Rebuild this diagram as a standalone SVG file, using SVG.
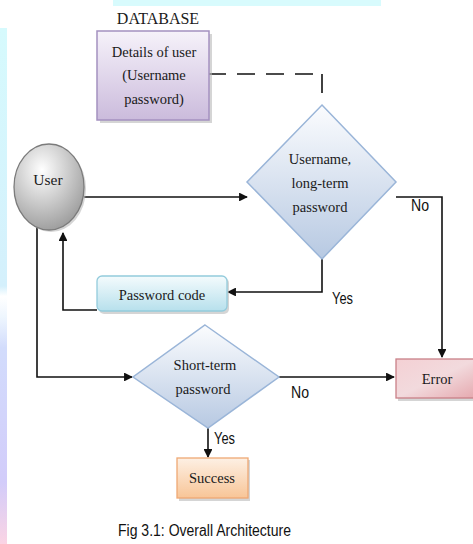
<svg xmlns="http://www.w3.org/2000/svg" width="473" height="544" viewBox="0 0 473 544">
  <style>
    .serif { font-family: "Liberation Serif", "Times New Roman", serif; fill: #1a1a1a; }
    .sans { font-family: "Liberation Sans", Arial, sans-serif; fill: #111; }
    .line { fill: none; stroke: #111; stroke-width: 1.6; }
    .shadow { fill: #b9b9b9; opacity: 0.6; }
  </style>
  <defs>
    <marker id="arrow" viewBox="0 0 10 10" refX="9" refY="5" markerWidth="5.5" markerHeight="5.5" orient="auto">
      <path d="M0,0 L10,5 L0,10 z" fill="#111"/>
    </marker>
    <linearGradient id="gDb" x1="0" y1="0" x2="0" y2="1">
      <stop offset="0" stop-color="#f6f2fa"/>
      <stop offset="1" stop-color="#cbbbdc"/>
    </linearGradient>
    <linearGradient id="gDiamond" x1="0" y1="0" x2="0" y2="1">
      <stop offset="0" stop-color="#fbfcfe"/>
      <stop offset="1" stop-color="#b7c9e2"/>
    </linearGradient>
    <radialGradient id="gUser" cx="0.4" cy="0.3" r="0.8">
      <stop offset="0" stop-color="#ffffff"/>
      <stop offset="1" stop-color="#939393"/>
    </radialGradient>
    <linearGradient id="gCode" x1="0" y1="0" x2="0" y2="1">
      <stop offset="0" stop-color="#f4fbfd"/>
      <stop offset="1" stop-color="#b7e0ec"/>
    </linearGradient>
    <linearGradient id="gError" x1="0" y1="0" x2="1" y2="1">
      <stop offset="0" stop-color="#f4d0d4"/>
      <stop offset="0.5" stop-color="#f2dadd"/>
      <stop offset="1" stop-color="#e5a8ae"/>
    </linearGradient>
    <linearGradient id="gSuccess" x1="0" y1="0" x2="0" y2="1">
      <stop offset="0" stop-color="#fdf0e4"/>
      <stop offset="1" stop-color="#f8c597"/>
    </linearGradient>
    <linearGradient id="gStrip" x1="0" y1="0" x2="0" y2="1">
      <stop offset="0" stop-color="#d6fafd"/>
      <stop offset="0.5" stop-color="#d4f0fc"/>
      <stop offset="0.52" stop-color="#ffffff"/>
      <stop offset="0.56" stop-color="#eef6fe"/>
      <stop offset="0.62" stop-color="#d2dcfc"/>
      <stop offset="0.88" stop-color="#d2ccfa"/>
      <stop offset="1" stop-color="#fbd4e4"/>
    </linearGradient>
  </defs>

  <!-- page background and decorative edges -->
  <rect width="473" height="544" fill="#ffffff"/>
  <rect x="0" y="28" width="7" height="516" fill="url(#gStrip)"/>
  <rect x="113" y="0" width="268" height="6" fill="#d8fbfd"/>

  <!-- connectors -->
  <g id="connectors">
    <path class="line" d="M208,74 H322" stroke-dasharray="18,11" stroke="#333"/>
    <path class="line" d="M322,74 V93"/>
    <path class="line" d="M84,197 H247" marker-end="url(#arrow)"/>
    <path class="line" d="M396,197 H442 V357" marker-end="url(#arrow)"/>
    <path class="line" d="M322,259 V292 H228" marker-end="url(#arrow)"/>
    <path class="line" d="M97,310 H63 V233" marker-end="url(#arrow)"/>
    <path class="line" d="M37,227 V377 H132" marker-end="url(#arrow)"/>
    <path class="line" d="M279,377 H394" marker-end="url(#arrow)"/>
    <path class="line" d="M208,428 V457" marker-end="url(#arrow)"/>
  </g>

  <!-- edge labels -->
  <g id="labels" class="sans" font-size="16" lengthAdjust="spacingAndGlyphs">
    <text x="411" y="211" textLength="18" lengthAdjust="spacingAndGlyphs">No</text>
    <text x="332" y="304" textLength="21" lengthAdjust="spacingAndGlyphs">Yes</text>
    <text x="291" y="398" textLength="18" lengthAdjust="spacingAndGlyphs">No</text>
    <text x="214" y="444" textLength="21" lengthAdjust="spacingAndGlyphs">Yes</text>
  </g>

  <g id="database">
    <text class="serif" x="158" y="24" font-size="16" text-anchor="middle">DATABASE</text>
    <rect class="shadow" x="100" y="34" width="112" height="89"/>
    <rect x="97" y="31" width="112" height="89" fill="url(#gDb)" stroke="#a491c0" stroke-width="1.5"/>
    <g class="serif" font-size="14.5" text-anchor="middle">
      <text x="154" y="57">Details of user</text>
      <text x="154" y="80">(Username</text>
      <text x="154" y="104">password)</text>
    </g>
  </g>

  <g id="user">
    <ellipse class="shadow" cx="51" cy="189" rx="35" ry="43"/>
    <ellipse cx="49" cy="187" rx="35" ry="43" fill="url(#gUser)" stroke="#7b7b7b" stroke-width="1.3"/>
    <text class="serif" x="48" y="185" font-size="15.5" text-anchor="middle">User</text>
  </g>

  <g id="check-long-term">
    <polygon points="322,105 396,182 322,259 247,182" fill="url(#gDiamond)" stroke="#9ab5d8" stroke-width="1.5"/>
    <g class="serif" font-size="14.5" text-anchor="middle">
      <text x="320" y="164">Username,</text>
      <text x="320" y="188">long-term</text>
      <text x="320" y="212">password</text>
    </g>
  </g>

  <g id="password-code">
    <rect class="shadow" x="99" y="278" width="130" height="36" rx="5"/>
    <rect x="97" y="276" width="130" height="35" rx="5" fill="url(#gCode)" stroke="#93cbdc" stroke-width="1.3"/>
    <text class="serif" x="162" y="300" font-size="14.5" text-anchor="middle">Password code</text>
  </g>

  <g id="check-short-term">
    <polygon points="205,325 279,377 208,428 133,377" fill="url(#gDiamond)" stroke="#9ab5d8" stroke-width="1.5"/>
    <g class="serif" font-size="14.5" text-anchor="middle">
      <text x="205" y="370">Short-term</text>
      <text x="203" y="394">password</text>
    </g>
  </g>

  <g id="error">
    <rect class="shadow" x="398" y="361" width="80" height="40"/>
    <rect x="396" y="359" width="80" height="39" fill="url(#gError)" stroke="#c98088" stroke-width="1.3"/>
    <text class="serif" x="437" y="384" font-size="14.5" text-anchor="middle">Error</text>
  </g>

  <g id="success">
    <rect class="shadow" x="179" y="460" width="71" height="41"/>
    <rect x="177" y="458" width="71" height="40" fill="url(#gSuccess)" stroke="#efa874" stroke-width="1.3"/>
    <text class="serif" x="212" y="483" font-size="14.5" text-anchor="middle">Success</text>
  </g>

  <text class="sans" x="118" y="536" font-size="16" textLength="173" lengthAdjust="spacingAndGlyphs">Fig 3.1: Overall Architecture</text>
</svg>
